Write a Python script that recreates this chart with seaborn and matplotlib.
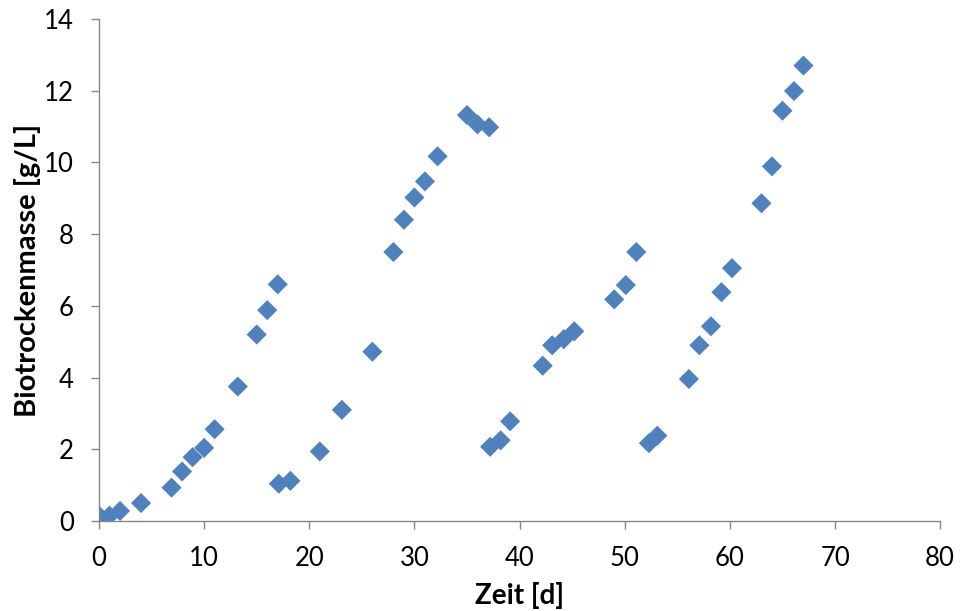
import matplotlib
matplotlib.use("Agg")
import matplotlib.pyplot as plt
import seaborn as sns
import pandas as pd

# Biomass dry weight over time for four consecutive cultivation batches
zeit_1 = [0, 1, 2, 4, 6.9, 7.9, 8.9, 10.0, 11.0, 13.2, 15.0, 16.0, 17.0]
masse_1 = [0.15, 0.15, 0.28, 0.5, 0.93, 1.38, 1.78, 2.04, 2.56, 3.75, 5.2, 5.88, 6.6]

zeit_2 = [17.1, 18.2, 21.0, 23.1, 26.0, 28.0, 29.0, 30.0, 31.0, 32.2, 35.0, 36.0, 37.1]
masse_2 = [1.04, 1.12, 1.94, 3.1, 4.72, 7.5, 8.4, 9.02, 9.47, 10.17, 11.32, 11.06, 10.98]

zeit_3 = [37.2, 38.2, 39.1, 42.2, 43.1, 44.2, 45.2, 49.0, 50.1, 51.1]
masse_3 = [2.07, 2.25, 2.78, 4.33, 4.9, 5.07, 5.29, 6.18, 6.58, 7.5]

zeit_4 = [52.3, 53.1, 56.1, 57.1, 58.2, 59.2, 60.2, 63.0, 64.0, 65.0, 66.1, 67.0]
masse_4 = [2.17, 2.38, 3.96, 4.9, 5.43, 6.38, 7.05, 8.86, 9.89, 11.44, 11.99, 12.7]

df = pd.DataFrame({
    "Zeit": zeit_1 + zeit_2 + zeit_3 + zeit_4,
    "Masse": masse_1 + masse_2 + masse_3 + masse_4,
})

sns.set_style("white")
plt.rcParams["font.family"] = ["Lato", "DejaVu Sans"]

fig = plt.figure(figsize=(9.63, 6.11), dpi=100)
ax = fig.add_axes([0.1028, 0.1473, 0.8735, 0.8217])

sns.scatterplot(data=df, x="Zeit", y="Masse", marker="D", s=105,
                color="#4F81BD", edgecolor="none", linewidth=0, ax=ax)

ax.set_xlim(0, 80)
ax.set_ylim(0, 14)
ax.set_xticks(range(0, 81, 10))
ax.set_yticks(range(0, 15, 2))

for side in ("top", "right"):
    ax.spines[side].set_visible(False)
for side in ("left", "bottom"):
    ax.spines[side].set_color("#868686")
    ax.spines[side].set_linewidth(1.0)

ax.tick_params(axis="both", which="major", direction="out", length=6,
               width=1.0, color="#868686", labelsize=18.5, labelcolor="black",
               left=True, bottom=True)
ax.tick_params(axis="x", pad=12)
ax.tick_params(axis="y", pad=12)

ax.set_xlabel("Zeit [d]", fontsize=20, fontweight="bold", labelpad=8, color="black")
ax.set_ylabel("Biotrockenmasse [g/L]", fontsize=21, fontweight="bold", labelpad=2, color="black")

fig.savefig("out.png", dpi=100)
